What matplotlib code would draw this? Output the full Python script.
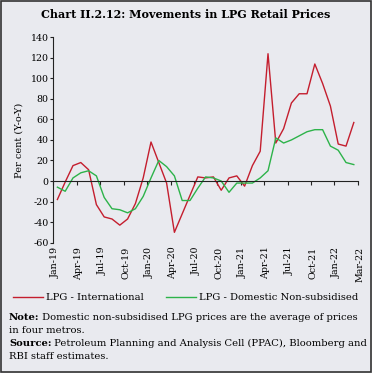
import matplotlib
matplotlib.use('Agg')
import matplotlib.pyplot as plt
import numpy as np
from matplotlib import patches
from matplotlib.transforms import blended_transform_factory

# monthly data, Jan-19 .. Mar-22 (per cent, y-o-y)
months = ['Jan-19', 'Feb-19', 'Mar-19', 'Apr-19', 'May-19', 'Jun-19',
          'Jul-19', 'Aug-19', 'Sep-19', 'Oct-19', 'Nov-19', 'Dec-19',
          'Jan-20', 'Feb-20', 'Mar-20', 'Apr-20', 'May-20', 'Jun-20',
          'Jul-20', 'Aug-20', 'Sep-20', 'Oct-20', 'Nov-20', 'Dec-20',
          'Jan-21', 'Feb-21', 'Mar-21', 'Apr-21', 'May-21', 'Jun-21',
          'Jul-21', 'Aug-21', 'Sep-21', 'Oct-21', 'Nov-21', 'Dec-21',
          'Jan-22', 'Feb-22', 'Mar-22']
lpg_international = [-18, -1, 15, 18, 11, -23, -35, -37, -43, -37, -22, 3,
                     38, 18, -2, -50, -32, -14, 4, 3, 4, -9, 3, 5,
                     -5, 15, 29, 124, 37, 51, 76, 85, 85, 114, 95, 73,
                     36, 34, 57]
lpg_domestic = [-6, -10, 3, 8, 10, 5, -16, -27, -28, -31, -27, -15,
                3, 20, 14, 5, -19, -19, -7, 4, 3, 0, -11, -2,
                -2, -2, 3, 10, 42, 37, 40, 44, 48, 50, 50, 34,
                30, 18, 16]
tick_labels = ['Jan-19', 'Apr-19', 'Jul-19', 'Oct-19', 'Jan-20', 'Apr-20',
               'Jul-20', 'Oct-20', 'Jan-21', 'Apr-21', 'Jul-21', 'Oct-21',
               'Jan-22', 'Mar-22']
y_ticks = [-60, -40, -20, 0, 20, 40, 60, 80, 100, 120, 140]

bg = '#e9eaef'
red = '#c41e2e'
green = '#2db34a'
font = 'DejaVu Serif'
plt.rcParams['font.family'] = font

fig = plt.figure(figsize=(3.72, 3.73), dpi=100, facecolor=bg)
ax = fig.add_axes([0.1438, 0.3496, 0.8178, 0.5504], facecolor=bg)

x = np.arange(len(months))
ax.plot(x, lpg_international, color=red, lw=1.0, label='LPG - International')
ax.plot(x, lpg_domestic, color=green, lw=1.0,
        label='LPG - Domestic Non-subsidised')

ax.set_xlim(-0.5, len(months) - 0.5)
ax.set_ylim(-60, 140)
ax.set_yticks(y_ticks)
ax.set_yticklabels([str(v) for v in y_ticks], fontsize=6.8)
ax.tick_params(axis='y', direction='out', length=2.5, width=0.8, pad=1,
               color='#222222')
ax.set_ylabel('Per cent (Y-o-Y)', fontsize=7, labelpad=5)

# category-boundary ticks every 3 months, axis crossing at zero
xt = np.arange(-0.5, len(months), 3)
ax.set_xticks(xt)
ax.tick_params(axis='x', direction='out', length=3, width=0.8,
               labelbottom=False, color='#222222')
ax.spines['bottom'].set_position(('data', 0))
for s in ['top', 'right']:
    ax.spines[s].set_visible(False)
for s in ['left', 'bottom']:
    ax.spines[s].set_linewidth(0.8)
    ax.spines[s].set_color('#222222')

trans = blended_transform_factory(ax.transData, ax.transAxes)
for pos, lab in zip(xt, tick_labels):
    ax.text(pos + 0.25, -0.02, lab, transform=trans, rotation=90,
            ha='center', va='top', fontsize=6.8)

fig.legend(loc='upper left', bbox_to_anchor=(0.025, 0.225), ncol=2,
           frameon=False, fontsize=7.2, handlelength=3.0, handletextpad=0.3,
           columnspacing=2.2, borderaxespad=0)

fig.text(0.5, 0.962, 'Chart II.2.12: Movements in LPG Retail Prices',
         ha='center', va='center', fontsize=8, fontweight='bold')

# note and source lines
fig.canvas.draw()
renderer = fig.canvas.get_renderer()
inv = fig.transFigure.inverted()
notes = [
    ('Note:', ' Domestic non-subsidised LPG prices are the average of prices',
     0.148),
    ('', 'in four metros.', 0.113),
    ('Source:', ' Petroleum Planning and Analysis Cell (PPAC), Bloomberg and',
     0.078),
    ('', 'RBI staff estimates.', 0.043),
]
for head, body, ypos in notes:
    xpos = 0.024
    if head:
        t = fig.text(xpos, ypos, head, fontsize=7.2, fontweight='bold',
                     va='center', ha='left')
        bb = t.get_window_extent(renderer)
        xpos = inv.transform((bb.x1, bb.y0))[0]
    fig.text(xpos, ypos, body, fontsize=7.2, va='center', ha='left')

fig.patches.append(patches.Rectangle((0.003, 0.003), 0.994, 0.994,
                                     transform=fig.transFigure, fill=False,
                                     edgecolor='#333333', lw=1.2))

fig.savefig('out.png', dpi=100, facecolor=bg)
